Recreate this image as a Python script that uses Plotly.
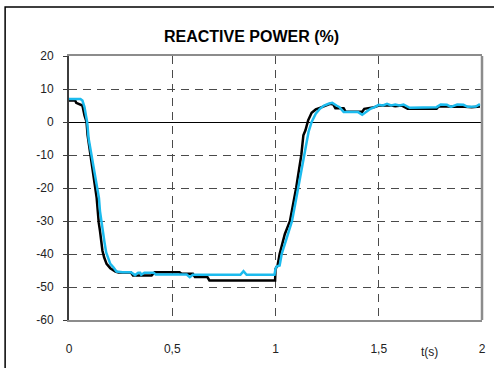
import plotly.graph_objects as go

# ---- data ----
t_black = [0.00, 0.03, 0.035, 0.05, 0.065, 0.075, 0.085, 0.09, 0.104, 0.115, 0.128, 0.133, 0.134,
           0.138, 0.141, 0.144, 0.150, 0.155, 0.162, 0.170, 0.182, 0.200, 0.225, 0.240, 0.300,
           0.310, 0.400, 0.415, 0.535, 0.545, 0.600, 0.610, 0.670, 0.680, 0.998, 1.000, 1.010,
           1.020, 1.045, 1.070, 1.085, 1.100, 1.125, 1.130, 1.135, 1.145, 1.158, 1.175, 1.195,
           1.215, 1.240, 1.265, 1.280, 1.290, 1.330, 1.340, 1.420, 1.430, 1.480, 1.500, 1.560,
           1.580, 1.610, 1.640, 1.780, 1.790, 1.830, 1.860, 1.900, 1.950, 1.990]
v_black = [6.5, 6.5, 5.8, 5.5, 5.0, 2.0, 0.0, -4, -10, -14, -19, -21, -23,
           -26, -29, -30.5, -33, -36, -39, -41, -43, -44.3, -45.3, -45.6, -45.6,
           -46.5, -46.5, -45.5, -45.5, -46.0, -46.0, -47.0, -47.0, -48.0, -48.0, -44.5, -43.5,
           -40, -34, -30, -25, -20, -10, -7, -4, -2.5, 0.5, 2.8, 3.8,
           4.3, 4.8, 5.5, 5.3, 4.2, 4.2, 3.1, 3.1, 4.0, 4.5, 5.0, 5.0,
           4.8, 5.0, 4.0, 4.0, 4.7, 4.8, 4.6, 4.7, 4.5, 4.7]

t_cyan = [0.00, 0.055, 0.065, 0.075, 0.082, 0.088, 0.095, 0.109, 0.125, 0.139, 0.141, 0.145,
          0.150, 0.157, 0.165, 0.172, 0.180, 0.190, 0.200, 0.215, 0.230, 0.260, 0.300, 0.320,
          0.335, 0.345, 0.350, 0.365, 0.410, 0.420, 0.570, 0.585, 0.600, 0.830, 0.845, 0.860,
          0.995, 1.000, 1.005, 1.020, 1.030, 1.050, 1.080, 1.095, 1.110, 1.128, 1.140, 1.150,
          1.160, 1.175, 1.195, 1.215, 1.235, 1.260, 1.275, 1.295, 1.310, 1.330, 1.400, 1.420,
          1.440, 1.460, 1.480, 1.500, 1.520, 1.540, 1.560, 1.580, 1.600, 1.620, 1.650, 1.700,
          1.780, 1.800, 1.830, 1.850, 1.880, 1.910, 1.930, 1.970, 1.990]
v_cyan = [7.0, 7.0, 6.5, 4.5, 2.0, 0.0, -5, -10, -16, -21, -22.5, -23,
          -27, -30.5, -34, -36.5, -39.5, -41.5, -43, -44, -45.3, -45.5, -45.5, -46.4,
          -45.7, -45.7, -46.3, -45.7, -45.7, -46.2, -46.2, -47.0, -46.3, -46.3, -45.2, -46.3,
          -46.3, -44.5, -43.8, -43.5, -40, -36, -30, -25, -20, -14, -10, -6,
          -3, 0, 2.5, 4.0, 5.0, 5.6, 5.8, 5.0, 4.5, 3.0, 3.0, 2.2,
          3.0, 4.0, 4.5, 5.2, 5.0, 5.5, 5.0, 5.3, 5.0, 5.3, 4.3, 4.4,
          4.5, 5.3, 5.2, 4.6, 5.3, 5.2, 4.6, 4.7, 5.4]

y_tick_vals = [-60, -50, -40, -30, -20, -10, 0, 10, 20]
y_tick_text = ["-60", "-50", "-40", "-30", "-20", "-10", "0", "10", "20"]
x_tick_vals = [0, 0.5, 1, 1.5, 2]
x_tick_text = ["0", "0,5", "1", "1,5", "2"]

FONT = "Liberation Sans, Arial, sans-serif"

fig = go.Figure()
fig.add_trace(go.Scatter(x=t_black, y=v_black, mode="lines",
                         line=dict(color="#000000", width=2.5), showlegend=False))
fig.add_trace(go.Scatter(x=t_cyan, y=v_cyan, mode="lines",
                         line=dict(color="#1cbbee", width=2.5), showlegend=False))

W, H = 494, 368
L, R, T, B = 69, 8, 56, 48
pw, ph = W - L - R, H - T - B

def px(xp):
    return (xp - L) / pw

def py(yp):
    return (H - B - yp) / ph

fig.update_layout(
    width=W, height=H,
    margin=dict(l=L, r=R, t=T, b=B, pad=0),
    paper_bgcolor="white", plot_bgcolor="white",
    font=dict(family=FONT, size=12, color="#222222"),
    xaxis=dict(range=[0, 2], tickvals=x_tick_vals, ticktext=x_tick_text,
               showgrid=True, gridcolor="#4a4a4a", gridwidth=1, griddash="8px,6px",
               zeroline=False, showline=True, linecolor="#8c8c8c", linewidth=2, mirror=True,
               ticks="", ticklabelstandoff=17, tickfont=dict(size=12, color="#222222")),
    yaxis=dict(range=[-60, 20], tickvals=y_tick_vals, ticktext=y_tick_text,
               showgrid=True, gridcolor="#4a4a4a", gridwidth=1, griddash="8px,6px",
               zeroline=True, zerolinecolor="#000000", zerolinewidth=1,
               showline=True, linecolor="#3c3c3c", linewidth=2,
               ticks="outside", ticklen=4, tickcolor="#3c3c3c", tickwidth=1,
               ticklabelstandoff=7, tickfont=dict(size=12, color="#222222")),
    shapes=[
        dict(type="line", xref="paper", yref="paper", x0=1, x1=1, y0=0, y1=1,
             line=dict(color="#8c8c8c", width=2.5)),
        dict(type="rect", xref="paper", yref="paper",
             x0=px(4.5), x1=px(510), y0=py(390), y1=py(7),
             line=dict(color="#000000", width=1.5), fillcolor="rgba(0,0,0,0)"),
    ],
    annotations=[
        dict(text="<b>REACTIVE POWER (%)</b>", xref="paper", yref="paper",
             x=px(253), y=py(36), xanchor="center", yanchor="middle", showarrow=False,
             font=dict(family=FONT, size=16, color="#000000")),
        dict(text="t(s)", xref="paper", yref="paper",
             x=px(433), y=py(352), xanchor="center", yanchor="middle", showarrow=False,
             font=dict(family=FONT, size=12, color="#222222")),
    ],
)

fig.write_html("out.html")
